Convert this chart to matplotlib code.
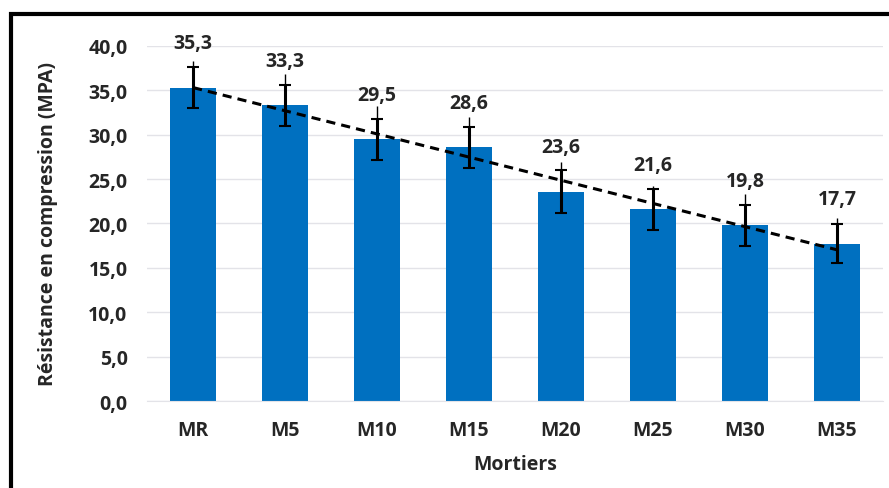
import numpy as np
import matplotlib.pyplot as plt
from matplotlib.patches import Rectangle

mortiers = ["MR", "M5", "M10", "M15", "M20", "M25", "M30", "M35"]
resistance = [35.3, 33.3, 29.5, 28.6, 23.6, 21.6, 19.8, 17.7]
ecart = [2.3, 2.3, 2.3, 2.3, 2.4, 2.3, 2.3, 2.2]
ecart_max = [3.0, 3.5, 3.7, 3.4, 3.3, 2.6, 3.5, 2.9]
labels = ["35,3", "33,3", "29,5", "28,6", "23,6", "21,6", "19,8", "17,7"]

plt.rcParams["font.family"] = ["Open Sans", "DejaVu Sans"]

fig = plt.figure(figsize=(8.89, 4.89), dpi=100)
ax = fig.add_axes([0.1654, 0.1779, 0.8279, 0.726])

x = np.arange(len(mortiers))
ax.bar(x, resistance, width=0.5, color="#0070C0", zorder=2)

# thin upper whiskers + main error bars
ax.errorbar(x, resistance, yerr=[np.zeros(len(x)), ecart_max], fmt="none",
            ecolor="black", elinewidth=1, capsize=0, zorder=3)
ax.errorbar(x, resistance, yerr=ecart, fmt="none", ecolor="black",
            elinewidth=2.2, capsize=4, capthick=1.5, zorder=3)

# linear trend
coef = np.polyfit(x, resistance, 1)
ax.plot(x, np.polyval(coef, x), color="black", linestyle=(0, (3, 2)),
        linewidth=2.2, zorder=4)

for xi, yi, lab in zip(x, resistance, labels):
    ax.annotate(lab, (xi, yi), xytext=(0, 32), textcoords="offset points",
                ha="center", va="center", fontsize=14, fontweight="bold",
                color="#262626")

ax.set_xlim(-0.5, len(mortiers) - 0.5)
ax.set_ylim(0, 40)
ax.set_yticks(np.arange(0, 45, 5))
ax.set_yticklabels([f"{v:.1f}".replace(".", ",") for v in np.arange(0, 45, 5)])
ax.set_xticks(x)
ax.set_xticklabels(mortiers)
ax.tick_params(length=0, labelsize=14, labelcolor="#262626", pad=14)
for lab in ax.get_xticklabels() + ax.get_yticklabels():
    lab.set_fontweight("bold")
ax.tick_params(axis="y", pad=14)

ax.grid(axis="y", color="#E3E3E8", linewidth=1, zorder=0)
ax.set_axisbelow(True)
for s in ["top", "right", "left"]:
    ax.spines[s].set_visible(False)
ax.spines["bottom"].set_color("#E3E3E8")

ax.set_xlabel("Mortiers", fontsize=14, fontweight="bold", color="#262626", labelpad=10)
ax.set_ylabel("Résistance en compression (MPA)", fontsize=14, fontweight="bold",
              color="#262626", labelpad=22)

# chart frame (top and left visible)
fig.add_artist(Rectangle((11 / 889, -0.2), 1.2, 1.2 - 15 / 489,
                         transform=fig.transFigure, fill=False,
                         edgecolor="black", linewidth=3, clip_on=False))

fig.savefig("out.png", dpi=100)
